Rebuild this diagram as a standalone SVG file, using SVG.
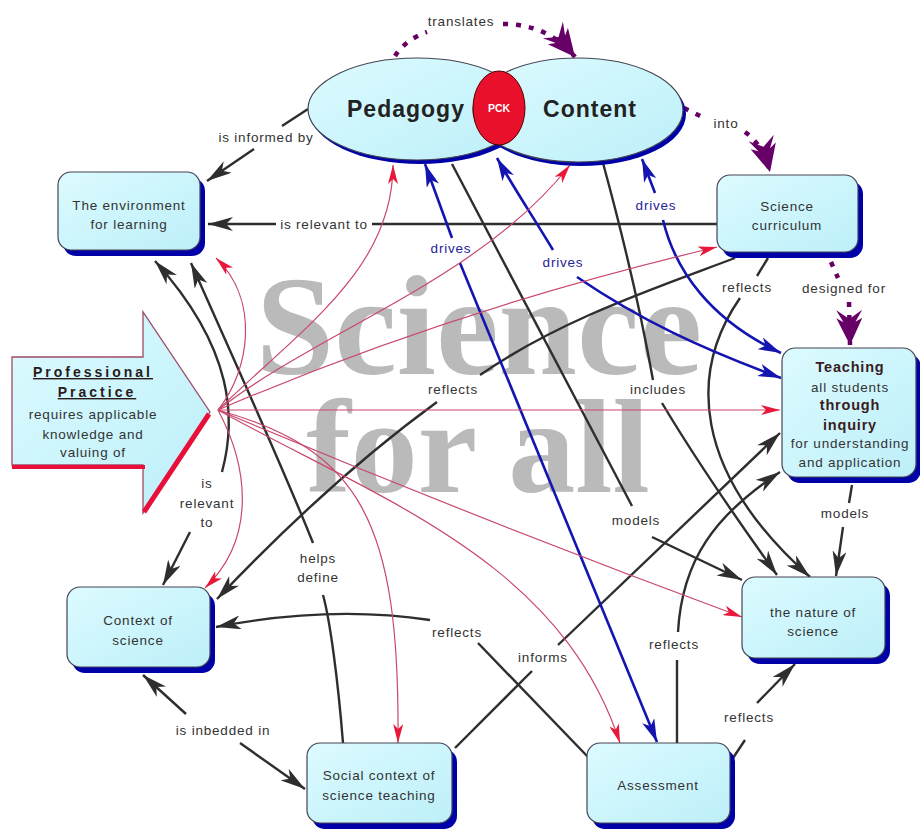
<svg xmlns="http://www.w3.org/2000/svg" width="920" height="830" viewBox="0 0 920 830">
<defs>
<linearGradient id="g" x1="0" y1="0" x2="1" y2="1">
<stop offset="0" stop-color="#dcfbff"/>
<stop offset="1" stop-color="#bdeff9"/>
</linearGradient>
<marker id="ab" markerUnits="userSpaceOnUse" markerWidth="26" markerHeight="14" refX="25" refY="7" orient="auto"><path d="M0,0 L25,7 L0,14 L7,7 z" fill="#2e2e2e"/></marker>
<marker id="abl" markerUnits="userSpaceOnUse" markerWidth="24" markerHeight="13" refX="23" refY="6.5" orient="auto"><path d="M0,0 L23,6.5 L0,13 L6,6.5 z" fill="#1414b0"/></marker>
<marker id="ar" markerUnits="userSpaceOnUse" markerWidth="20" markerHeight="10" refX="19" refY="5" orient="auto"><path d="M0,0 L19,5 L0,10 L5,5 z" fill="#e8183a"/></marker>
<marker id="ap" markerUnits="userSpaceOnUse" markerWidth="36" markerHeight="26" refX="35" refY="13" orient="auto"><path d="M0,0 L12,7 L8,0 L35,13 L8,26 L12,19 L0,26 L9,13 z" fill="#660066"/></marker>
</defs>
<style>
.t{font-family:"Liberation Sans",Arial,sans-serif;font-size:13.5px;letter-spacing:0.8px;fill:#333;text-anchor:middle}
.bt{font-weight:bold;font-size:14.5px;fill:#3a1c1c}
.dv{fill:#24249a}
.k{stroke:#2e2e2e;stroke-width:2.4;fill:none}
.b{stroke:#1414b0;stroke-width:2.6;fill:none}
.r{stroke:#c8486a;stroke-width:1.2;fill:none}
.p{stroke:#660066;stroke-width:4.5;fill:none;stroke-dasharray:5 8}
.box{fill:url(#g);stroke:#445;stroke-width:1.2}
.sh{fill:#0000a8}
.wm{font-family:"Liberation Serif","Times New Roman",serif;font-weight:bold;fill:#bababa;text-anchor:middle}
</style>
<rect width="920" height="830" fill="#ffffff"/>
<g id="watermark">
<text class="wm" x="479" y="374" font-size="141">Science</text>
<text class="wm" x="478" y="492" font-size="134">for all</text>
</g>
<g id="connectors">
<g class="k">
<path d="M308,109 L282,126"/>
<path d="M254,149 L207,181" marker-end="url(#ab)"/>
<path d="M717,224 L372,224"/>
<path d="M276,224 L208,224" marker-end="url(#ab)"/>
<path d="M452,164 Q545,340 632,506"/>
<path d="M652,537 L742,580" marker-end="url(#ab)"/>
<path d="M603,163 Q635,280 653,380"/>
<path d="M662,403 Q705,475 777,575" marker-end="url(#ab)"/>
<path d="M768,258 L757,276"/>
<path d="M740,298 C690,370 690,470 810,577" marker-end="url(#ab)"/>
<path d="M852,485 L849,503"/>
<path d="M843,527 L836,576" marker-end="url(#ab)"/>
<path d="M733,758 L745,740"/>
<path d="M757,703 L795,664" marker-end="url(#ab)"/>
<path d="M677,743 L677,660"/>
<path d="M678,632 C682,560 715,515 780,472" marker-end="url(#ab)"/>
<path d="M455,748 L532,671"/>
<path d="M558,645 L780,433" marker-end="url(#ab)"/>
<path d="M588,757 L478,643"/>
<path d="M430,620 Q330,605 216,627" marker-end="url(#ab)"/>
<path d="M735,258 C650,290 560,320 480,375"/>
<path d="M437,402 Q330,480 217,599" marker-end="url(#ab)"/>
<path d="M222,472 C236,420 235,350 155,261" marker-end="url(#ab)"/>
<path d="M190,532 L163,585" marker-end="url(#ab)"/>
<path d="M343,743 C338,680 330,620 323,595"/>
<path d="M313,543 C280,460 225,340 191,263" marker-end="url(#ab)"/>
<path d="M186,714 L143,675" marker-end="url(#ab)"/>
<path d="M240,743 L305,789" marker-end="url(#ab)"/>
</g>
<g class="b">
<path d="M452,238 L425,164" marker-end="url(#abl)"/>
<path d="M460,263 L657,742" marker-end="url(#abl)"/>
<path d="M553,250 C535,220 512,185 497,158" marker-end="url(#abl)"/>
<path d="M577,277 C640,320 700,348 781,378" marker-end="url(#abl)"/>
<path d="M655,193 L642,159" marker-end="url(#abl)"/>
<path d="M663,220 C675,270 710,320 781,353" marker-end="url(#abl)"/>
</g>
<g class="r">
<path d="M218,410 C250,370 260,300 216,258" marker-end="url(#ar)"/>
<path d="M218,410 C300,330 393,270 393,165" marker-end="url(#ar)"/>
<path d="M218,410 C320,330 480,280 570,165" marker-end="url(#ar)"/>
<path d="M218,410 Q450,310 717,247" marker-end="url(#ar)"/>
<path d="M218,410 L780,410" marker-end="url(#ar)"/>
<path d="M218,410 Q480,520 742,617" marker-end="url(#ar)"/>
<path d="M218,410 C380,500 560,560 620,743" marker-end="url(#ar)"/>
<path d="M218,410 C360,450 400,520 398,743" marker-end="url(#ar)"/>
<path d="M218,410 C250,470 255,540 205,588" marker-end="url(#ar)"/>
</g>
<g class="p">
<path d="M395,56 Q405,40 427,32"/>
<path d="M503,24 Q548,24 575,57" marker-end="url(#ap)"/>
<path d="M684,108 L702,117"/>
<path d="M745,132 Q763,145 770,172" marker-end="url(#ap)"/>
<path d="M831,262 L838,278"/>
<path d="M849,302 L850,345" marker-end="url(#ap)"/>
</g>
<g class="t">
<text x="461" y="26">translates</text>
<text x="726" y="128">into</text>
<text x="844" y="293">designed for</text>
<text x="266" y="142">is informed by</text>
<text x="324" y="229">is relevant to</text>
<text class="dv" x="451" y="253">drives</text>
<text class="dv" x="563" y="267">drives</text>
<text class="dv" x="656" y="210">drives</text>
<text x="453" y="394">reflects</text>
<text x="658" y="394">includes</text>
<text x="747" y="292">reflects</text>
<text x="636" y="525">models</text>
<text x="845" y="518">models</text>
<text x="674" y="649">reflects</text>
<text x="749" y="722">reflects</text>
<text x="543" y="662">informs</text>
<text x="457" y="637">reflects</text>
<text x="207" y="488">is</text>
<text x="207" y="508">relevant</text>
<text x="207" y="527">to</text>
<text x="318" y="563">helps</text>
<text x="318" y="582">define</text>
<text x="223" y="735">is inbedded in</text>
</g>
</g>
<g id="pedagogy-content">
<ellipse cx="420" cy="113" rx="109" ry="51" class="sh"/>
<ellipse cx="581" cy="114" rx="105" ry="52" class="sh"/>
<ellipse cx="417" cy="109" rx="109" ry="51" class="box"/>
<ellipse cx="578" cy="110" rx="105" ry="52" class="box"/>
<ellipse cx="499" cy="108" rx="26" ry="37" fill="#e8102a" stroke="#500" stroke-width="1"/>
<text x="406" y="117" style="font-family:'Liberation Sans',Arial,sans-serif;font-weight:bold;font-size:23px;letter-spacing:1px;fill:#222;text-anchor:middle">Pedagogy</text>
<text x="590" y="117" style="font-family:'Liberation Sans',Arial,sans-serif;font-weight:bold;font-size:23px;letter-spacing:1px;fill:#222;text-anchor:middle">Content</text>
<text x="499" y="112" style="font-family:'Liberation Sans',Arial,sans-serif;font-weight:bold;font-size:10.5px;fill:#fff;text-anchor:middle">PCK</text>
</g>
<g id="environment">
<rect x="63" y="178" width="142" height="78" rx="13" class="sh"/>
<rect x="58" y="172" width="142" height="78" rx="13" class="box"/>
<text class="t" x="129" y="210">The environment</text>
<text class="t" x="129" y="229">for learning</text>
</g>
<g id="science-curriculum">
<rect x="722" y="181" width="141" height="77" rx="13" class="sh"/>
<rect x="717" y="175" width="141" height="77" rx="13" class="box"/>
<text class="t" x="787" y="211">Science</text>
<text class="t" x="787" y="230">curriculum</text>
</g>
<g id="teaching">
<rect x="787" y="354" width="134" height="129" rx="13" class="sh"/>
<rect x="782" y="348" width="134" height="129" rx="13" class="box"/>
<text class="t bt" x="850" y="372">Teaching</text>
<text class="t" x="850" y="392">all students</text>
<text class="t bt" x="850" y="410">through</text>
<text class="t bt" x="850" y="430">inquiry</text>
<text class="t" x="850" y="448">for understanding</text>
<text class="t" x="850" y="467">and application</text>
</g>
<g id="context-of-science">
<rect x="72" y="593" width="143" height="80" rx="13" class="sh"/>
<rect x="67" y="587" width="143" height="80" rx="13" class="box"/>
<text class="t" x="138" y="625">Context of</text>
<text class="t" x="138" y="645">science</text>
</g>
<g id="social-context">
<rect x="312" y="749" width="145" height="80" rx="13" class="sh"/>
<rect x="307" y="743" width="145" height="80" rx="13" class="box"/>
<text class="t" x="379" y="780">Social context of</text>
<text class="t" x="379" y="800">science teaching</text>
</g>
<g id="assessment">
<rect x="592" y="749" width="143" height="80" rx="13" class="sh"/>
<rect x="587" y="743" width="143" height="80" rx="13" class="box"/>
<text class="t" x="658" y="790">Assessment</text>
</g>
<g id="nature-of-science">
<rect x="747" y="583" width="143" height="81" rx="13" class="sh"/>
<rect x="742" y="577" width="143" height="81" rx="13" class="box"/>
<text class="t" x="813" y="617">the nature of</text>
<text class="t" x="813" y="636">science</text>
</g>
<g id="professional-practice">
<polygon points="12,357 143,357 143,312 210,412 143,513 143,465 12,465" fill="url(#g)" stroke="#a04a68" stroke-width="1.3"/>
<line x1="12" y1="467" x2="145" y2="467" stroke="#e8103a" stroke-width="4"/>
<line x1="209" y1="414" x2="144" y2="512" stroke="#e8103a" stroke-width="5"/>
<text class="t" x="93" y="377" style="font-weight:bold;font-size:14px;letter-spacing:3px;text-decoration:underline;fill:#2a1a1a">Professional</text>
<text class="t" x="97" y="397" style="font-weight:bold;font-size:14px;letter-spacing:3px;text-decoration:underline;fill:#2a1a1a">Practice</text>
<text class="t" x="93" y="419">requires applicable</text>
<text class="t" x="93" y="439">knowledge and</text>
<text class="t" x="93" y="457">valuing of</text>
</g>
</svg>
